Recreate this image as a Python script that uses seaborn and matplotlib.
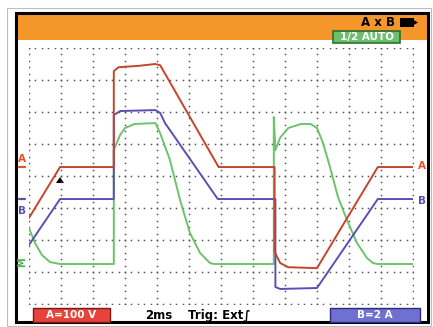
import numpy as np
import pandas as pd
import matplotlib
matplotlib.use("Agg")
import matplotlib.pyplot as plt
from matplotlib.patches import Rectangle, Polygon
import seaborn as sns

# ---------------- data (time in ms, 2 ms/div) ----------------
time_a = [0, 1.94, 5.3, 5.3, 5.6, 6.8, 7.9, 8.2, 11.85, 15.35, 15.35, 15.7, 16.2, 18.0, 21.8, 24.0]
volts_a = [-159, 0, 0, 300, 312, 316, 322, 318, 0, 0, -265, -300, -313, -316, 0, 0]

time_b = [0, 1.94, 5.3, 5.3, 5.7, 7.9, 8.2, 8.5, 11.8, 15.4, 15.4, 15.7, 18.0, 21.8, 24.0]
amps_b = [-2.87, 0, 0, 5.25, 5.5, 5.56, 5.38, 4.75, 0, 0, -5.5, -5.62, -5.56, 0, 0]

time_m = [0, 0.375, 0.81, 1.31, 1.94, 5.3, 5.3, 5.69, 6.0, 6.6, 7.9, 8.19, 8.81, 9.44,
          10.06, 10.69, 11.31, 11.56, 15.3, 15.3, 15.4, 15.7, 16.2, 17.0, 17.6, 18.0,
          18.375, 18.81, 19.31, 19.875, 20.5, 21.125, 21.5, 21.8, 24.0]
watts_m = [225, 131, 56, 12, 0, 0, 712, 806, 850, 875, 881, 819, 650, 400,
           194, 69, 6, 0, 0, 919, 712, 790, 850, 875, 875, 850,
           756, 606, 419, 275, 131, 37, 6, 0, 0]

scale_a, zero_a = 100.0, 4.28     # V/div, zero level (div)
scale_b, zero_b = 2.0, 3.28       # A/div
scale_m, zero_m = 200.0, 1.25     # W/div

c_red, c_blue, c_green = "#c4452b", "#5b4fb5", "#6cc46a"

# ---------------- figure ----------------
sns.set_style("white")
W, H = 433, 327
fig = plt.figure(figsize=(W / 100, H / 100), dpi=100, facecolor="white")

ov = fig.add_axes([0, 0, 1, 1], zorder=0)
ov.set_xlim(0, W)
ov.set_ylim(H, 0)
ov.axis("off")

ax = fig.add_axes([29 / W, (H - 304) / H, 384 / W, 256 / H], zorder=1)
ax.patch.set_alpha(0)
ax.set_xlim(0, 24)
ax.set_ylim(0, 8)
ax.axis("off")

# dotted graticule
for gx in np.arange(0, 24.01, 2):
    ys = np.arange(0, 8.01, 0.2)
    ax.plot(np.full_like(ys, gx), ys, ls="none", marker="s", ms=1.1, color="#555555", mew=0)
for gy in np.arange(0, 8.01, 1):
    xs = np.arange(0, 24.01, 0.4)
    ax.plot(xs, np.full_like(xs, gy), ls="none", marker="s", ms=1.1, color="#555555", mew=0)

df_a = pd.DataFrame({"t": time_a, "y": zero_a + np.array(volts_a) / scale_a})
df_b = pd.DataFrame({"t": time_b, "y": zero_b + np.array(amps_b) / scale_b})
df_m = pd.DataFrame({"t": time_m, "y": zero_m + np.array(watts_m) / scale_m})

for df, c in [(df_m, c_green), (df_b, c_blue), (df_a, c_red)]:
    sns.lineplot(data=df, x="t", y="y", ax=ax, color=c, lw=1.4, sort=False,
                 estimator=None, legend=False)
ax.set_xlim(0, 24)
ax.set_ylim(0, 8)
ax.axis("off")

# ---------------- frame & bars ----------------
ov.add_patch(Rectangle((7, 8), 424, 318, fill=False, ec="#bdbdbd", lw=0.8))
ov.add_patch(Rectangle((16, 13), 412, 27, fc="#f5962a", ec="none"))
ov.add_patch(Rectangle((16, 13), 412, 309, fill=False, ec="black", lw=2.2))

bold = dict(fontweight="bold", family="DejaVu Sans")
ov.text(395, 22.5, "A x B", ha="right", va="center", fontsize=8.5, color="black", **bold)
ov.add_patch(Rectangle((400, 18), 14, 9, fc="black", ec="none"))
ov.add_patch(Polygon([[412, 19], [418, 22.5], [412, 26]], closed=True, fc="black", ec="none"))

ov.add_patch(Rectangle((333, 31), 67, 12, fc="#6cbf6c", ec="#2f6f2f", lw=1.2))
ov.text(366.5, 37.3, "1/2 AUTO", ha="center", va="center", fontsize=7.5, color="white", **bold)

ov.add_patch(Rectangle((33, 308), 77, 14, fc="#e8433a", ec="#7a1a14", lw=1))
ov.text(71.5, 315.5, "A=100 V", ha="center", va="center", fontsize=7.5, color="white", **bold)
ov.text(145, 315.5, "2ms", ha="left", va="center", fontsize=8.5, color="black", **bold)
ov.text(188, 315.5, "Trig: Ext\u222b", ha="left", va="center", fontsize=8.5, color="black", **bold)
ov.add_patch(Rectangle((330, 308), 90, 14, fc="#7070d2", ec="#2d2d7a", lw=1))
ov.text(375, 315.5, "B=2 A", ha="center", va="center", fontsize=7.5, color="white", **bold)

# channel markers
ov.text(22, 159, "A", ha="center", va="center", fontsize=7.5, color="#e8502a", **bold)
ov.plot([19, 25], [167, 167], color="#e8502a", lw=1.6)
ov.plot([19, 25], [199, 199], color="#5b4fb5", lw=1.6)
ov.text(22, 211, "B", ha="center", va="center", fontsize=7.5, color="#5b4fb5", **bold)
ov.text(22, 262, "M", ha="center", va="center", fontsize=7, color="#4cb04a", rotation=90, **bold)
ov.text(418, 166, "A", ha="left", va="center", fontsize=7.5, color="#e8502a", **bold)
ov.text(418, 201, "B", ha="left", va="center", fontsize=7.5, color="#5b4fb5", **bold)

# trigger marker
ov.add_patch(Polygon([[56, 183], [64, 183], [60, 177]], closed=True, fc="black", ec="none"))

fig.savefig("out.png", dpi=100, facecolor="white")
